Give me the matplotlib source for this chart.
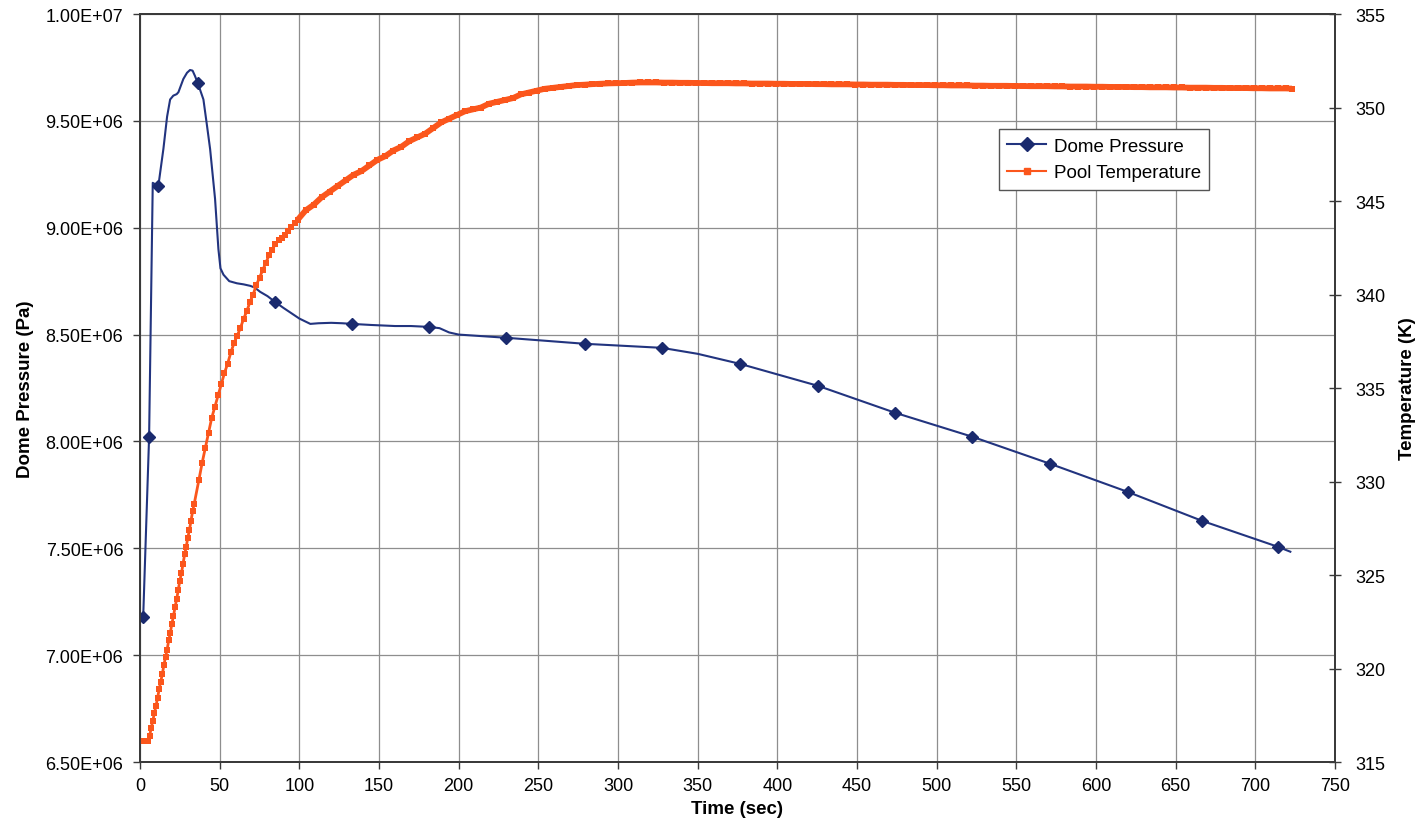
import matplotlib
matplotlib.use("Agg")
import matplotlib.pyplot as plt
from matplotlib.lines import Line2D

plt.rcParams['font.family'] = ['Liberation Sans', 'DejaVu Sans']

# Dome pressure (Pa) vs time (s)
press_t = [2.0, 5.7, 8.0, 11.5, 14.7, 17.0, 18.9, 20.9, 23.0, 24.1,
           27.2, 29.5, 31.4, 33.0, 34.5, 36.3, 39.8, 42.0, 44.0, 47.1,
           49.2, 50.5, 52.4, 56.0, 60.8, 65.0, 69.2, 72.0, 75.4, 80.0,
           84.9, 90.0, 95.0, 100.0, 106.9, 112.0, 120.0, 127.0, 133.0, 145.0,
           160.0, 170.0, 181.3, 188.0, 194.0, 200.0, 230.0, 279.0, 327.5, 350.0,
           376.6, 425.6, 474.0, 522.4, 571.4, 619.9, 666.4, 714.2, 722.0]
press_pa = [7.18e6, 8.02e6, 9.21e6, 9.195e6, 9.37e6, 9.52e6, 9.60e6, 9.618e6, 9.625e6, 9.634e6,
            9.696e6, 9.725e6, 9.738e6, 9.735e6, 9.71e6, 9.676e6, 9.60e6, 9.48e6, 9.368e6, 9.135e6,
            8.90e6, 8.81e6, 8.78e6, 8.75e6, 8.74e6, 8.735e6, 8.728e6, 8.72e6, 8.70e6, 8.68e6,
            8.652e6, 8.625e6, 8.60e6, 8.575e6, 8.55e6, 8.553e6, 8.555e6, 8.553e6, 8.55e6, 8.545e6,
            8.54e6, 8.54e6, 8.536e6, 8.53e6, 8.51e6, 8.50e6, 8.485e6, 8.457e6, 8.438e6, 8.41e6,
            8.363e6, 8.26e6, 8.134e6, 8.022e6, 7.895e6, 7.764e6, 7.629e6, 7.507e6, 7.484e6]
# times where the diamond markers sit
marker_t = [2.0, 5.7, 11.5, 36.3, 84.9, 133.0, 181.3, 230.0, 279.0, 327.5,
            376.6, 425.6, 474.0, 522.4, 571.4, 619.9, 666.4, 714.2]

# Pool temperature (K) vs time (s)
temp_t = (list(range(0, 35, 1)) + list(range(37, 100, 2)) +
          list(range(104, 330, 5)) + list(range(334, 720, 5)) + [723])
temp_k = [
    316.1, 316.1, 316.1, 316.1, 316.1, 316.1,
    316.4, 316.8, 317.2, 317.6, 318.0, 318.4, 318.9, 319.3, 319.7, 320.2,
    320.6, 321.0, 321.5, 321.9, 322.4, 322.8, 323.3, 323.7, 324.2, 324.7,
    325.1, 325.6, 326.1, 326.5, 327.0, 327.4, 327.9, 328.4, 328.8,
    330.1, 331.0, 331.8, 332.6, 333.4, 334.0, 334.6, 335.2, 335.8, 336.3,
    336.9, 337.4, 337.8, 338.2, 338.7, 339.1, 339.6, 340.0, 340.5, 340.9,
    341.3, 341.7, 342.1, 342.4, 342.7, 342.9, 343.0, 343.2, 343.4, 343.6,
    343.8, 344.0,
    344.5, 344.8, 345.2, 345.5, 345.8, 346.1, 346.4, 346.6, 346.9, 347.2,
    347.4, 347.7, 347.9, 348.2, 348.4, 348.6, 348.9, 349.2, 349.4, 349.6,
    349.8, 349.9, 350.0, 350.2, 350.3, 350.4, 350.5, 350.7, 350.8, 350.9,
    351.0, 351.05, 351.1, 351.15, 351.2, 351.22, 351.25, 351.27, 351.29, 351.3,
    351.31, 351.33, 351.34, 351.34, 351.34, 351.33,
    351.33, 351.32, 351.32, 351.31, 351.31, 351.30, 351.30, 351.30, 351.29, 351.29,
    351.28, 351.28, 351.28, 351.27, 351.27, 351.26, 351.26, 351.26, 351.25, 351.25,
    351.24, 351.24, 351.24, 351.23, 351.23, 351.22, 351.22, 351.22, 351.21, 351.21,
    351.20, 351.20, 351.20, 351.19, 351.19, 351.18, 351.18, 351.18, 351.17, 351.17,
    351.16, 351.16, 351.16, 351.15, 351.15, 351.14, 351.14, 351.14, 351.13, 351.13,
    351.12, 351.12, 351.12, 351.11, 351.11, 351.10, 351.10, 351.10, 351.09, 351.09,
    351.08, 351.08, 351.08, 351.07, 351.07, 351.06, 351.06, 351.06, 351.05, 351.05,
    351.04, 351.04, 351.04, 351.03, 351.03, 351.02, 351.02, 351.02, 351.01,
]

x_ticks = list(range(0, 751, 50))
p_ticks = [6.5e6, 7.0e6, 7.5e6, 8.0e6, 8.5e6, 9.0e6, 9.5e6, 1.0e7]
k_ticks = [315, 320, 325, 330, 335, 340, 345, 350, 355]

blue = '#22347f'
blue_mk = '#1a2a6e'
orange = '#fb561c'
spine_c = '#3a3a3a'

fig = plt.figure(figsize=(14.2, 8.29), dpi=100)
ax = fig.add_axes([0.0986, 0.0796, 0.8415, 0.9023])
ax2 = ax.twinx()

mk_idx = [press_t.index(t) for t in marker_t]
ax.plot(press_t, press_pa, color=blue, lw=1.5, marker='D', markersize=6.5,
        markerfacecolor=blue_mk, markeredgecolor=blue_mk, markevery=mk_idx)
ax2.plot(temp_t, temp_k, color=orange, lw=2.0, marker='s', markersize=4.2,
         markerfacecolor=orange, markeredgecolor=orange, markeredgewidth=0)
# past ~100 s the markers crowd into one solid band
i_band = temp_t.index(99)
ax2.plot(temp_t[i_band:], temp_k[i_band:], color=orange, lw=4.2,
         solid_capstyle='butt')

ax.set_xlim(0, 750)
ax.set_ylim(6.5e6, 1.0e7)
ax2.set_ylim(315, 355)
ax.set_xticks(x_ticks)
ax.set_yticks(p_ticks)
ax.set_yticklabels([f"{v:.2E}" for v in p_ticks])
ax2.set_yticks(k_ticks)

ax.grid(True, color='#8e8e8e', lw=0.9)
ax.set_axisbelow(True)

for a in (ax, ax2):
    for s in a.spines.values():
        s.set_color(spine_c)
        s.set_linewidth(1.3)

ax.tick_params(axis='both', labelsize=13, direction='out', length=5,
               width=1, color=spine_c, pad=6)
ax.tick_params(axis='y', pad=7)
ax2.tick_params(axis='y', labelsize=13, direction='inout', length=9,
                width=1, color=spine_c, pad=10)

lbl = dict(fontsize=13.5, fontweight='bold')
ax.set_xlabel('Time (sec)', labelpad=4, **lbl)
ax.set_ylabel('Dome Pressure (Pa)', labelpad=8, **lbl)
ax2.set_ylabel('Temperature (K)', rotation=90, labelpad=10, **lbl)

handles = [
    Line2D([], [], color=blue, lw=1.5, marker='D', markersize=7,
           markerfacecolor=blue_mk, markeredgecolor=blue_mk),
    Line2D([], [], color=orange, lw=1.5, marker='s', markersize=4,
           markerfacecolor=orange, markeredgecolor=orange),
]
leg = ax2.legend(handles, ['Dome Pressure', 'Pool Temperature'],
                 loc='upper right', bbox_to_anchor=(0.895, 0.846),
                 borderaxespad=0, fontsize=13.5, handlelength=2.1,
                 handletextpad=0.4, labelspacing=0.5, borderpad=0.45,
                 fancybox=False, framealpha=1)
leg.get_frame().set_edgecolor('#555555')
leg.get_frame().set_linewidth(1.0)

fig.savefig('out.png', dpi=100)
